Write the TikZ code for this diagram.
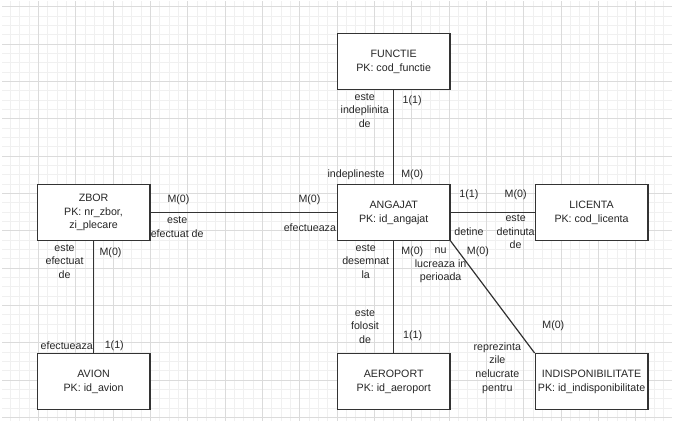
\documentclass[tikz,border=0pt]{standalone}
\usepackage{fontspec}
\setmainfont{Liberation Sans}
\usepackage{xcolor}
\usepackage{tikz}
\usetikzlibrary{positioning, calc}

\begin{document}
\begin{tikzpicture}[x=0.75pt, y=-0.75pt,
    entity/.style={draw=black!80, line width=0.9pt, fill=white, minimum width=84.5pt, minimum height=41.9pt, align=center, inner sep=0pt, text=black!85, font=\fontsize{8}{10.4}\selectfont},
    lbl/.style={align=center, inner sep=0pt, text=black!85, font=\fontsize{8}{10.2}\selectfont},
    rel/.style={draw=black!80, line width=0.9pt}]

    % grid in the background
    \useasboundingbox (0,0) rectangle (678,427);
    \begin{scope}[shift={(1,6.7)}]
        \draw[step=7pt, black!6, line width=0.5pt] (1,-5.7) grid (671,414);
        \draw[step=28pt, black!14, line width=0.6pt] (1,-5.7) grid (671,414);
    \end{scope}

    \node[entity] (angajat) at (393.7,212.5) {ANGAJAT\\PK: id\_angajat};
    \node[entity, above=70.3pt of angajat] (functie) {FUNCTIE\\PK: cod\_functie};
    \node[entity, left=139.7pt of angajat] (zbor) {ZBOR\\PK: nr\_zbor,\\zi\_plecare};
    \node[entity, right=63pt of angajat] (licenta) {LICENTA\\PK: cod\_licenta};
    \node[entity, below=84pt of angajat] (aeroport) {AEROPORT\\PK: id\_aeroport};
    \node[entity, below=84pt of zbor] (avion) {AVION\\PK: id\_avion};
    \node[entity, below=84pt of licenta] (indisp) {INDISPONIBILITATE\\PK: id\_indisponibilitate};

    \draw[rel] (functie) -- (angajat);
    \draw[rel] (zbor) -- (angajat);
    \draw[rel] (angajat) -- (licenta);
    \draw[rel] (zbor) -- (avion);
    \draw[rel] (angajat) -- (aeroport);
    \draw[rel] (angajat.south east) -- (indisp.north west);

    % functie - angajat
    \node[lbl] (rol_f) at ($(functie.south)+(-29,20)$) {este\\indeplinita\\de};
    \node[lbl] (card_f) at ($(functie.south)+(18.5,10.7)$) {1(1)};
    \node[lbl] (rol_af) at ($(angajat.north)+(-37.7,-9)$) {indeplineste};
    \node[lbl] (card_af) at ($(angajat.north)+(18.6,-9)$) {M(0)};

    % zbor - angajat
    \node[lbl] (card_za) at ($(zbor.east)+(28,-13.2)$) {M(0)};
    \node[lbl] (rol_za) at ($(zbor.east)+(26.7,14.7)$) {este\\efectuat de};
    \node[lbl] (card_az) at ($(angajat.west)+(-27.3,-13.2)$) {M(0)};
    \node[lbl, anchor=east] (rol_az) at ($(angajat.west)+(-0.5,15.2)$) {efectueaza};

    % zbor - avion
    \node[lbl] (rol_zv) at ($(zbor.south)+(-29,20.2)$) {este\\efectuat\\de};
    \node[lbl] (card_zv) at ($(zbor.south)+(17,12)$) {M(0)};
    \node[lbl, anchor=east] (rol_vz) at ($(avion.north)+(-0.5,-7.3)$) {efectueaza};
    \node[lbl] (card_vz) at ($(avion.north)+(20.7,-7.3)$) {1(1)};

    % angajat - licenta
    \node[lbl] (card_al) at ($(angajat.east)+(18.3,-18.2)$) {1(1)};
    \node[lbl] (rol_al) at ($(angajat.east)+(18.3,19.5)$) {detine};
    \node[lbl] (card_la) at ($(licenta.west)+(-19,-18.2)$) {M(0)};
    \node[lbl] (rol_la) at ($(licenta.west)+(-19,19.5)$) {este\\detinuta\\de};

    % angajat - aeroport
    \node[lbl] (rol_ae) at ($(angajat.south)+(-28,20.3)$) {este\\desemnat\\la};
    \node[lbl] (card_ae) at ($(angajat.south)+(18.6,10.4)$) {M(0)};
    \node[lbl] (rol_ea) at ($(aeroport.north)+(-28.7,-26.8)$) {este\\folosit\\de};
    \node[lbl] (card_ea) at ($(aeroport.north)+(19,-17)$) {1(1)};

    % angajat - indisponibilitate
    \node[lbl] (rol_ai) at ($(angajat.south east)+(-10,24.5)$) {nu\\lucreaza in\\perioada};
    \node[lbl] (card_ai) at ($(angajat.south east)+(27.3,10.4)$) {M(0)};
    \node[lbl] (card_ia) at ($(indisp.north west)+(18.7,-27)$) {M(0)};
    \node[lbl] (rol_ia) at ($(indisp.north west)+(-37.3,15)$) {reprezinta\\zile\\nelucrate\\pentru};
\end{tikzpicture}
\end{document}
